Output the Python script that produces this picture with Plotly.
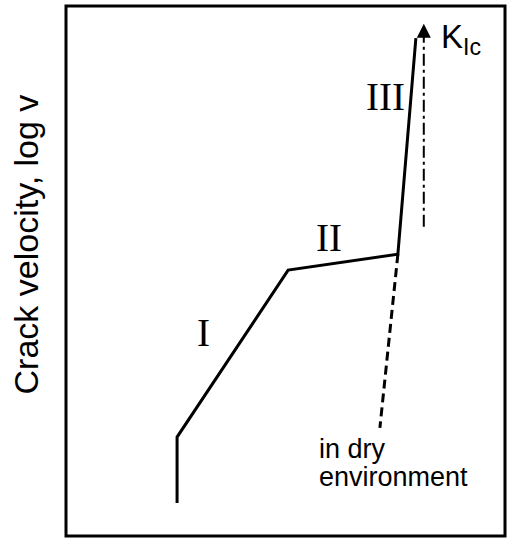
import plotly.graph_objects as go

# Data (arbitrary units: x = stress intensity K, y = log v)
curve_x = [2.53, 2.53, 5.06, 7.56, 7.97]
curve_y = [0.75, 2.24, 6.02, 6.38, 11.27]
dry_x = [7.56, 7.15]
dry_y = [6.38, 2.45]
kic_x = [8.15, 8.15]
kic_y = [7.0, 11.35]
kic_tip = (8.15, 11.6)
region_labels = ["I", "II", "III"]
region_x = [3.13, 6.0, 7.28]
region_y = [4.6, 6.75, 9.95]

fig = go.Figure()
fig.add_trace(go.Scatter(x=curve_x, y=curve_y, mode="lines",
                         line=dict(color="black", width=3), hoverinfo="skip"))
fig.add_trace(go.Scatter(x=dry_x, y=dry_y, mode="lines",
                         line=dict(color="black", width=3, dash="9px,5px"), hoverinfo="skip"))
fig.add_trace(go.Scatter(x=kic_x, y=kic_y, mode="lines",
                         line=dict(color="black", width=2, dash="12px,4px,3px,4px"), hoverinfo="skip"))

# arrow head at K_Ic
fig.add_annotation(x=kic_tip[0], y=kic_tip[1], ax=0, ay=16, axref="pixel", ayref="pixel",
                   showarrow=True, arrowhead=2, arrowsize=1.4, arrowwidth=2, arrowcolor="black", text="")

serif = "Liberation Serif, Times New Roman, serif"
sans = "Liberation Sans, Arial, sans-serif"

for t, x, y in zip(region_labels, region_x, region_y):
    fig.add_annotation(x=x, y=y, text=t, showarrow=False, xanchor="center", yanchor="middle",
                       font=dict(family=serif, size=39, color="black"))

fig.add_annotation(x=8.5, y=11.25, text="K<sub>Ic</sub>", showarrow=False, xanchor="left", yanchor="middle",
                   font=dict(family=sans, size=33, color="black"))
fig.add_annotation(x=5.72, y=1.97, text="in dry", showarrow=False, xanchor="left", yanchor="middle",
                   font=dict(family=sans, size=27, color="black"))
fig.add_annotation(x=5.72, y=1.33, text="environment", showarrow=False, xanchor="left", yanchor="middle",
                   font=dict(family=sans, size=27, color="black"))

fig.add_annotation(xref="paper", yref="paper", x=-0.089, y=0.55, text="Crack velocity, log v",
                   textangle=-90, showarrow=False, xanchor="center", yanchor="middle",
                   font=dict(family=sans, size=34, color="black"))

fig.add_shape(type="rect", xref="paper", yref="paper", x0=0, x1=1, y0=0, y1=1,
              line=dict(color="black", width=3))

fig.update_xaxes(range=[0, 10], showgrid=False, zeroline=False, showticklabels=False, ticks="", fixedrange=True)
fig.update_yaxes(range=[0, 12], showgrid=False, zeroline=False, showticklabels=False, ticks="", fixedrange=True)
fig.update_layout(width=508, height=538, margin=dict(l=66, r=3, t=6, b=2),
                  paper_bgcolor="white", plot_bgcolor="white", showlegend=False)

fig.write_html("out.html")
